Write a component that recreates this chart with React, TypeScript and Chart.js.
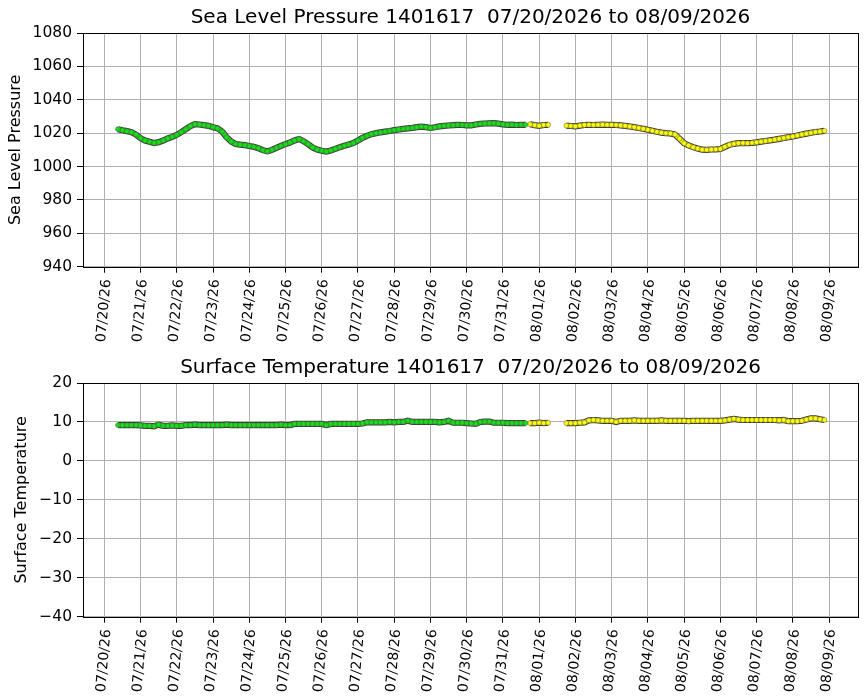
import { useEffect, useRef } from 'react';
import { Chart, registerables } from 'chart.js';

Chart.register(...registerables);

// samples every 3 hours, first one 07/20/26 09:00 (x axis = days since 07/20/26 00:00)
const START_DAY = 0.375;
const STEP_DAYS = 0.125;
// first 91 samples are drawn green, the rest yellow
const GREEN_COUNT = 91;

const DATE_TICKS = [
  '07/20/26', '07/21/26', '07/22/26', '07/23/26', '07/24/26', '07/25/26', '07/26/26',
  '07/27/26', '07/28/26', '07/29/26', '07/30/26', '07/31/26', '08/01/26', '08/02/26',
  '08/03/26', '08/04/26', '08/05/26', '08/06/26', '08/07/26', '08/08/26', '08/09/26',
];

const PRESSURE_TICKS = [940, 960, 980, 1000, 1020, 1040, 1060, 1080];
const TEMP_TICKS = [-40, -30, -20, -10, 0, 10, 20];

const PRESSURE = [
  1022.4, 1021.7, 1021.2, 1020.6, 1019.2, 1017.0, 1015.6, 1014.8, 1014.1, 1014.6,
  1015.6, 1016.8, 1017.8, 1019.0, 1020.6, 1022.4, 1024.2, 1025.4, 1025.2, 1024.8,
  1024.4, 1023.6, 1022.9, 1021.0, 1017.6, 1015.0, 1013.5, 1013.1, 1012.8, 1012.3,
  1011.8, 1011.0, 1009.8, 1009.1, 1010.0, 1011.2, 1012.4, 1013.4, 1014.4, 1015.6,
  1016.5, 1015.2, 1013.4, 1011.4, 1010.2, 1009.5, 1009.0, 1009.6, 1010.6, 1011.6,
  1012.4, 1013.2, 1014.1, 1015.6, 1017.2, 1018.4, 1019.4, 1020.0, 1020.5, 1020.9,
  1021.3, 1021.8, 1022.2, 1022.6, 1022.9, 1023.2, 1023.6, 1023.9, 1023.6, 1023.1,
  1023.5, 1024.1, 1024.4, 1024.6, 1024.8, 1025.0, 1024.9, 1024.7, 1024.7, 1025.2,
  1025.6, 1025.8, 1025.9, 1026.0, 1025.7, 1025.3, 1025.0, 1025.1, 1024.9, 1025.0,
  1025.0, 1025.3, 1024.8, 1024.4, 1024.9, 1025.0, null, null, null, 1024.5,
  1024.3, 1024.1, 1024.5, 1024.9, 1025.0, 1024.9, 1025.0, 1025.1, 1025.0, 1025.0,
  1024.9, 1024.7, 1024.4, 1024.0, 1023.6, 1023.1, 1022.6, 1022.0, 1021.4, 1020.8,
  1020.3, 1020.0, 1019.8, 1019.2, 1016.6, 1014.0, 1012.6, 1011.6, 1010.8, 1010.1,
  1010.0, 1010.2, 1010.3, 1010.5, 1011.8, 1013.0, 1013.6, 1014.0, 1014.1, 1014.0,
  1014.2, 1014.5, 1014.9, 1015.3, 1015.7, 1016.1, 1016.6, 1017.1, 1017.6, 1018.0,
  1018.6, 1019.2, 1019.7, 1020.2, 1020.7, 1021.0, 1021.4,
];

const TEMPERATURE = [
  9.2, 9.2, 9.2, 9.2, 9.2, 9.1, 9.0, 9.0, 8.9, 9.3,
  9.0, 9.0, 9.1, 9.0, 9.0, 9.2, 9.2, 9.3, 9.2, 9.2,
  9.2, 9.2, 9.2, 9.2, 9.3, 9.2, 9.2, 9.2, 9.2, 9.2,
  9.2, 9.2, 9.2, 9.2, 9.2, 9.2, 9.3, 9.2, 9.2, 9.5,
  9.5, 9.5, 9.5, 9.5, 9.5, 9.5, 9.2, 9.5, 9.5, 9.5,
  9.5, 9.5, 9.5, 9.5, 9.6, 9.9, 9.9, 9.9, 9.9, 9.9,
  10.0, 9.9, 10.0, 10.0, 10.3, 10.0, 10.0, 10.0, 10.0, 10.0,
  10.0, 9.9, 10.0, 10.3, 9.8, 9.8, 9.8, 9.7, 9.6, 9.5,
  10.0, 10.1, 10.1, 9.8, 9.8, 9.8, 9.7, 9.7, 9.7, 9.7,
  9.7, 9.7, 9.7, 9.8, 9.7, 9.8, null, null, null, 9.7,
  9.7, 9.7, 9.8, 9.9, 10.4, 10.5, 10.4, 10.3, 10.3, 10.3,
  10.0, 10.3, 10.3, 10.3, 10.4, 10.3, 10.3, 10.3, 10.3, 10.3,
  10.4, 10.3, 10.3, 10.3, 10.3, 10.3, 10.2, 10.3, 10.3, 10.3,
  10.3, 10.3, 10.3, 10.3, 10.4, 10.6, 10.8, 10.6, 10.5, 10.5,
  10.5, 10.5, 10.5, 10.5, 10.5, 10.5, 10.4, 10.5, 10.2, 10.2,
  10.2, 10.3, 10.6, 10.9, 10.9, 10.7, 10.5,
];

const FONT = "'DejaVu Sans', sans-serif";
const GREEN = '#14e014';
const YELLOW = '#ffff00';
const EDGE = '#3a3a3a';

const framePlugin = {
  id: 'frame',
  afterDatasetsDraw(chart: Chart) {
    const { ctx, chartArea: a } = chart;
    ctx.save();
    ctx.strokeStyle = '#000';
    ctx.lineWidth = 1;
    ctx.strokeRect(Math.round(a.left) + 0.5, Math.round(a.top) + 0.5,
      Math.round(a.right - a.left), Math.round(a.bottom - a.top));
    ctx.restore();
  },
};

function toPoints(values: (number | null)[], from: number, to: number) {
  const pts: { x: number; y: number | null }[] = [];
  for (let i = from; i < to; i++) {
    pts.push({ x: START_DAY + i * STEP_DAYS, y: values[i] });
  }
  return pts;
}

// three layers per colour: dark outline line, coloured core line, then the markers
function layers(data: { x: number; y: number | null }[], color: string) {
  return [
    { data, showLine: true, borderColor: EDGE, borderWidth: 6.2, pointRadius: 0, order: 3 },
    { data, showLine: true, borderColor: color, borderWidth: 4.2, pointRadius: 0, order: 2 },
    {
      data,
      showLine: false,
      pointRadius: 2.4,
      pointBorderWidth: 0.5,
      pointBackgroundColor: color,
      pointBorderColor: '#555',
      order: 1,
    },
  ];
}

function PanelChart(props: {
  title: string;
  yLabel: string;
  values: (number | null)[];
  yTicks: number[];
  yLabelPad: number;
}) {
  const ref = useRef<HTMLCanvasElement>(null);

  useEffect(() => {
    if (!ref.current) return;
    const { title, yLabel, values, yTicks, yLabelPad } = props;
    const green = toPoints(values, 0, GREEN_COUNT);
    const yellow = toPoints(values, GREEN_COUNT, values.length);
    const chart = new Chart(ref.current, {
      type: 'scatter',
      data: {
        datasets: [...layers(green, GREEN), ...layers(yellow, YELLOW)],
      },
      options: {
        animation: false,
        responsive: true,
        maintainAspectRatio: false,
        layout: { padding: { left: 0, right: 9, top: 0, bottom: 0 } },
        plugins: {
          legend: { display: false },
          tooltip: { enabled: false },
          title: {
            display: true,
            fullSize: false,
            text: title,
            color: '#000',
            font: { family: FONT, size: 20, weight: 'normal' },
            padding: { top: 6, bottom: 3 },
          },
        },
        scales: {
          x: {
            type: 'linear',
            min: -0.588,
            max: 20.8,
            afterFit: (s: any) => { s.height = 83.3; },
            afterBuildTicks: (s: any) => {
              s.ticks = DATE_TICKS.map((_, i) => ({ value: i }));
            },
            grid: { color: '#b0b0b0', lineWidth: 1, tickColor: '#000', tickLength: 6 },
            border: { display: false },
            ticks: {
              autoSkip: false,
              maxRotation: 85,
              minRotation: 85,
              padding: 6,
              labelOffset: 2.5,
              color: '#000',
              font: { family: FONT, size: 14 },
              callback: (v: any) => DATE_TICKS[v],
            },
          },
          y: {
            min: yTicks[0],
            max: yTicks[yTicks.length - 1],
            afterFit: (s: any) => { s.width = 83; },
            afterBuildTicks: (s: any) => {
              s.ticks = yTicks.map((v) => ({ value: v }));
            },
            grid: { color: '#b0b0b0', lineWidth: 1, tickColor: '#000', tickLength: 6 },
            border: { display: false },
            title: {
              display: true,
              text: yLabel,
              color: '#000',
              font: { family: FONT, size: 16 },
              padding: { top: yLabelPad, bottom: 0 },
            },
            ticks: {
              padding: 5,
              color: '#000',
              font: { family: FONT, size: 15.5 },
              callback: (v: any) => String(v).replace('-', '\u2212'),
            },
          },
        },
      },
      plugins: [framePlugin],
    } as any);
    return () => chart.destroy();
  }, []);

  return (
    <div style={{ position: 'relative', width: 867, height: 350 }}>
      <canvas ref={ref} />
    </div>
  );
}

export default function App() {
  return (
    <div style={{ position: 'fixed', left: 0, top: 0, width: 867, height: 700, background: '#fff' }}>
      <PanelChart
        title="Sea Level Pressure 1401617  07/20/2026 to 08/09/2026"
        yLabel="Sea Level Pressure"
        values={PRESSURE}
        yTicks={PRESSURE_TICKS}
        yLabelPad={6}
      />
      <PanelChart
        title="Surface Temperature 1401617  07/20/2026 to 08/09/2026"
        yLabel="Surface Temperature"
        values={TEMPERATURE}
        yTicks={TEMP_TICKS}
        yLabelPad={12}
      />
    </div>
  );
}
